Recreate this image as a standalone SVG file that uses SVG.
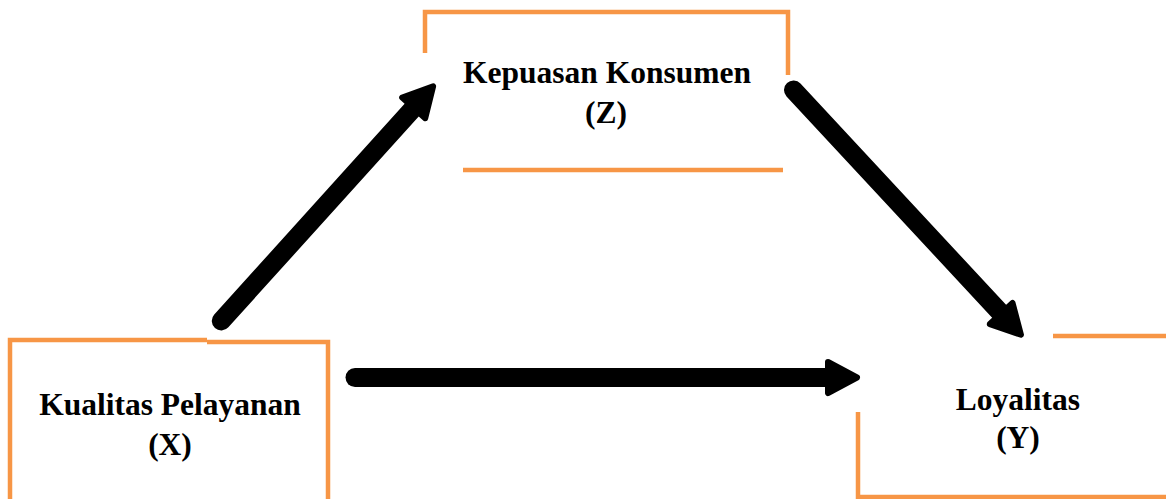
<svg xmlns="http://www.w3.org/2000/svg" width="1166" height="499" viewBox="0 0 1166 499">
  <style>
    .frame { fill: none; stroke: #F79646; stroke-width: 4.5; stroke-linecap: butt; stroke-linejoin: miter; }
    .label { font-family: "Liberation Serif", "Times New Roman", serif; font-weight: bold; font-size: 31.5px; fill: #000; text-anchor: middle; }
    .shaft { fill: none; stroke: #000; stroke-width: 19; stroke-linecap: round; }
  </style>
  <defs>
    <marker id="head" markerUnits="userSpaceOnUse" markerWidth="44" markerHeight="44" refX="3" refY="18.5" orient="auto" overflow="visible">
      <path d="M3,3 L32,18.5 L3,34 Z" fill="#000" stroke="#000" stroke-width="6" stroke-linejoin="round"/>
    </marker>
  </defs>
  <rect width="1166" height="499" fill="#fff"/>

  <!-- Kepuasan Konsumen (Z) -->
  <g id="node-z">
    <path class="frame" d="M425,53 V12 H788 V75"/>
    <path class="frame" d="M463,170 H783"/>
    <text class="label" x="607" y="83">Kepuasan Konsumen</text>
    <text class="label" x="606" y="123">(Z)</text>
  </g>

  <!-- Kualitas Pelayanan (X) -->
  <g id="node-x">
    <path class="frame" d="M10,499 V340 H207"/>
    <path class="frame" d="M207,342 H328 V499"/>
    <text class="label" x="170" y="415">Kualitas Pelayanan</text>
    <text class="label" x="170" y="455">(X)</text>
  </g>

  <!-- Loyalitas (Y) -->
  <g id="node-y">
    <path class="frame" d="M1053,336 H1166"/>
    <path class="frame" d="M858,412 V497 H1166"/>
    <text class="label" x="1018" y="410">Loyalitas</text>
    <text class="label" x="1018" y="448">(Y)</text>
  </g>

  <!-- connectors -->
  <g id="connectors">
    <path class="shaft" d="M221.3,320.9 L413.7,107.9" marker-end="url(#head)"/>
    <path class="shaft" d="M793.5,90 L1001.2,313.5" marker-end="url(#head)"/>
    <path class="shaft" d="M355,377.5 L828,377.5" marker-end="url(#head)"/>
  </g>
</svg>
